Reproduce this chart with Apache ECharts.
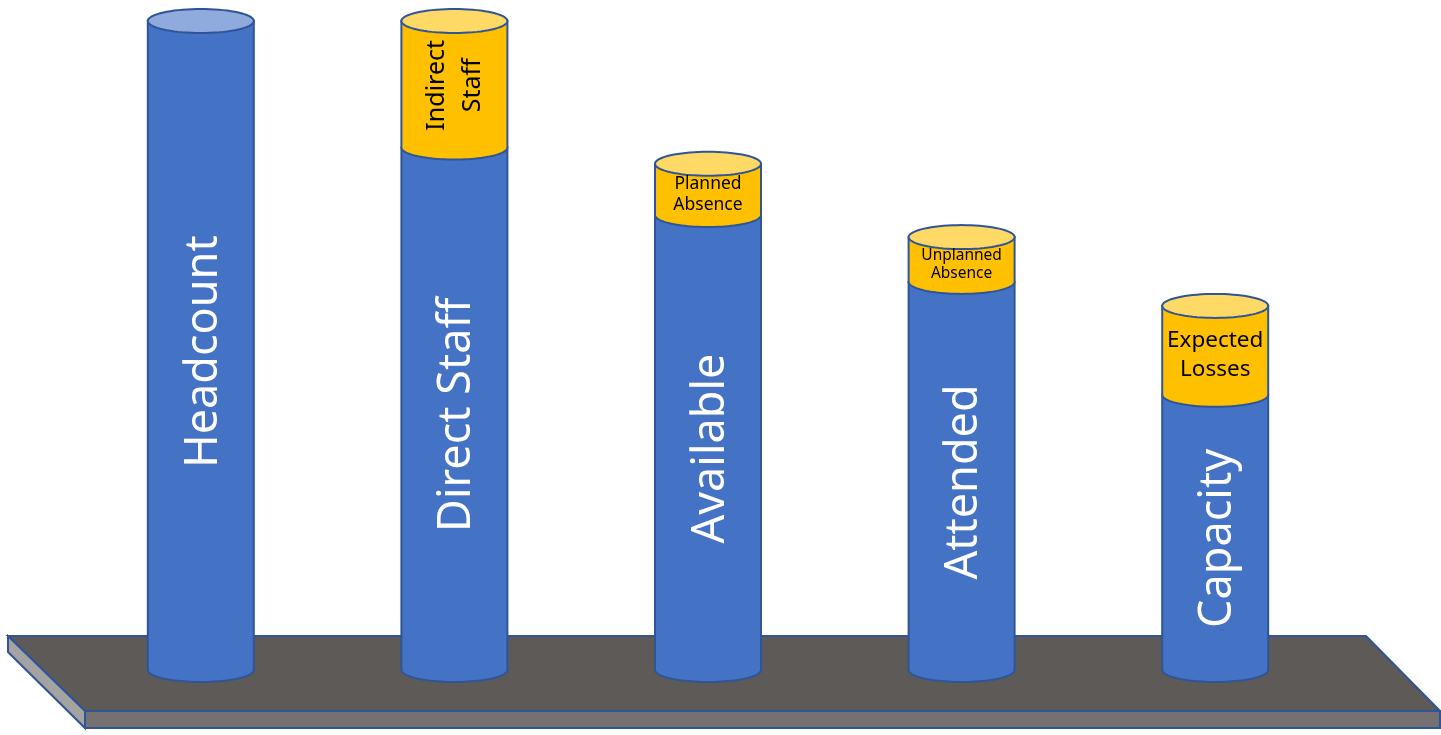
<!DOCTYPE html>
<html>
<head>
<meta charset="utf-8">
<script src="https://cdn.jsdelivr.net/npm/echarts@6/dist/echarts.min.js"></script>
<style>
  html, body { margin: 0; padding: 0; background: #ffffff; }
  #chart { width: 1441px; height: 735px; }
</style>
</head>
<body>
<div id="chart"></div>
<script>
// ---- data ----
const categories = ['Headcount', 'Direct Staff', 'Available', 'Attended', 'Capacity'];
const remainingValues = [100, 80.5, 70.1, 59.8, 42.4];   // blue part
const lossValues = [0, 19.5, 7.9, 6.9, 13.7];            // yellow part lost at each step
const lossLabels = ['', 'Indirect\nStaff', 'Planned\nAbsence', 'Unplanned\nAbsence', 'Expected\nLosses'];

// ---- styles ----
const lossLabelStyle = [
  null,
  { fontSize: 25, lineHeight: 36, rotate: true },
  { fontSize: 17.5, lineHeight: 21, rotate: false },
  { fontSize: 15.5, lineHeight: 18, rotate: false },
  { fontSize: 22.5, lineHeight: 29, rotate: false }
];
const BLUE = '#4472C4', BLUE_TOP = '#8FAADC', YELLOW = '#FFC000', YELLOW_TOP = '#FFD966', EDGE = '#2F5597';
const FONT = 'Noto Sans';

const chart = echarts.init(document.getElementById('chart'), null, { renderer: 'canvas' });

function lowerArc(cx, cy, rx, ry, n) {
  const pts = [];
  for (let k = 0; k <= n; k++) {
    const t = Math.PI - Math.PI * k / n;
    pts.push([cx + rx * Math.cos(t), cy + ry * Math.sin(t)]);
  }
  return pts;
}
function fullEllipse(cx, cy, rx, ry, n) {
  const pts = [];
  for (let k = 0; k < n; k++) {
    const t = 2 * Math.PI * k / n;
    pts.push([cx + rx * Math.cos(t), cy + ry * Math.sin(t)]);
  }
  return pts;
}
function body(cx, yTop, yBot, rx, ry) {
  return [[cx - rx, yTop]].concat(lowerArc(cx, yBot, rx, ry, 48)).concat([[cx + rx, yTop]]);
}

function renderItem(params, api) {
  const i = api.value(0);
  const base = api.value(1);
  const loss = api.value(2);
  const p0 = api.coord([i, 0]);
  const p1 = api.coord([i, base]);
  const p2 = api.coord([i, base + loss]);
  const cx = p0[0], y0 = p0[1], y1 = p1[1], y2 = p2[1];
  const rx = 53, ry = 12;
  const children = [];
  children.push({
    type: 'polygon', shape: { points: body(cx, y1, y0, rx, ry) },
    style: { fill: BLUE, stroke: EDGE, lineWidth: 2 }
  });
  if (loss > 0) {
    children.push({
      type: 'polygon', shape: { points: body(cx, y2, y1, rx, ry) },
      style: { fill: YELLOW, stroke: EDGE, lineWidth: 2 }
    });
    children.push({
      type: 'polygon', shape: { points: fullEllipse(cx, y2, rx, ry, 72) },
      style: { fill: YELLOW_TOP, stroke: EDGE, lineWidth: 2 }
    });
    const st = lossLabelStyle[i];
    children.push({
      type: 'text',
      x: cx, y: (y1 + y2) / 2 + (st.rotate ? 1 : 5),
      rotation: st.rotate ? Math.PI / 2 : 0,
      style: {
        text: lossLabels[i], fill: '#000000', fontSize: st.fontSize, lineHeight: st.lineHeight,
        fontFamily: FONT, align: 'center', verticalAlign: 'middle'
      }
    });
  } else {
    children.push({
      type: 'polygon', shape: { points: fullEllipse(cx, y1, rx, ry, 72) },
      style: { fill: BLUE_TOP, stroke: EDGE, lineWidth: 2 }
    });
  }
  children.push({
    type: 'text',
    x: cx + 3, y: (y0 + y1) / 2 + 6,
    rotation: Math.PI / 2,
    style: {
      text: categories[i], fill: '#ffffff', fontSize: 45,
      fontFamily: FONT, align: 'center', verticalAlign: 'middle'
    }
  });
  return { type: 'group', children: children };
}

const option = {
  animation: false,
  backgroundColor: '#ffffff',
  grid: { left: 74, right: 99, top: 21, bottom: 65 },
  xAxis: { type: 'category', data: categories, show: false, boundaryGap: true },
  yAxis: { type: 'value', min: 0, max: 100, show: false, splitLine: { show: false } },
  graphic: [
    { type: 'polygon', z: 0, shape: { points: [[8, 636], [1366, 636], [1440, 711], [85, 711]] },
      style: { fill: '#5E5A58', stroke: EDGE, lineWidth: 2 } },
    { type: 'polygon', z: 0, shape: { points: [[85, 711], [1440, 711], [1440, 728], [85, 728]] },
      style: { fill: '#767171', stroke: EDGE, lineWidth: 2 } },
    { type: 'polygon', z: 0, shape: { points: [[8, 636], [85, 711], [85, 728], [8, 652]] },
      style: { fill: '#A5A3A2', stroke: EDGE, lineWidth: 2 } }
  ],
  series: [{
    type: 'custom',
    z: 5,
    clip: false,
    renderItem: renderItem,
    data: categories.map((c, i) => [i, remainingValues[i], lossValues[i]])
  }]
};
chart.setOption(option);
</script>
</body>
</html>
